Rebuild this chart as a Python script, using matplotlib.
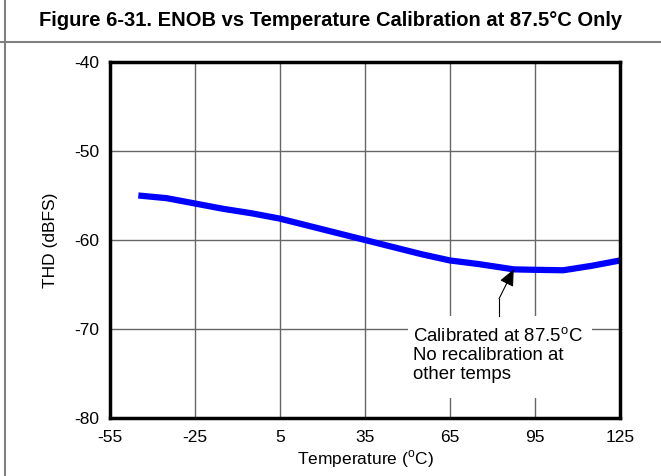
import matplotlib.pyplot as plt
from matplotlib.lines import Line2D
from matplotlib.patches import Rectangle

plt.rcParams['font.family'] = ['Liberation Sans', 'DejaVu Sans']
plt.rcParams['mathtext.fontset'] = 'custom'
plt.rcParams['mathtext.rm'] = 'Liberation Sans'
plt.rcParams['axes.unicode_minus'] = False

# THD vs temperature, calibrated once at 87.5 C
temp_c = [-45, -35, -25, -15, -5, 5, 15, 25, 35, 45, 55, 65, 75, 87.5, 95, 105, 115, 125]
thd_dbfs = [-55.0, -55.3, -55.9, -56.5, -57.0, -57.6, -58.4, -59.2, -60.0,
            -60.8, -61.6, -62.3, -62.7, -63.3, -63.35, -63.4, -62.9, -62.3]

x_ticks = [-55, -25, 5, 35, 65, 95, 125]
y_ticks = [-80, -70, -60, -50, -40]

title = 'Figure 6-31. ENOB vs Temperature Calibration at 87.5°C Only'
note = 'Calibrated at 87.5$^{\\mathrm{o}}$C\nNo recalibration at\nother temps'
note_pos = (52.0, -69.8)
cal_point = (87.5, -63.3)
note_anchor = (82.3, -66.6)
note_foot = (82.3, -68.5)

fig = plt.figure(figsize=(6.61, 4.76), dpi=100)
ax = fig.add_axes([110 / 661, 58 / 476, 510 / 661, 356 / 476])

ax.plot(temp_c, thd_dbfs, color='#0000ff', lw=4.5, solid_capstyle='butt', zorder=3)

ax.set_xlim(-55, 125)
ax.set_ylim(-80, -40)
ax.set_xticks(x_ticks)
ax.set_yticks(y_ticks)
ax.tick_params(length=0, labelsize=12.5)
ax.tick_params(axis='x', pad=9)
ax.tick_params(axis='y', pad=8)
ax.grid(True, color='#666666', lw=1)
for s in ax.spines.values():
    s.set_linewidth(2.5)
    s.set_zorder(6)

ax.set_xlabel('Temperature ($^{\\mathrm{o}}$C)', fontsize=12.5, labelpad=2)
ax.set_ylabel('THD (dBFS)', fontsize=12.5, labelpad=11)

# white panel behind the note, cutting the grid
ax.add_patch(Rectangle((50.2, -77.8), 64.9, 9.3, fc='white', ec='none', zorder=4))
ax.text(*note_pos, note, fontsize=13.4, va='top', ha='left', linespacing=1.1, zorder=5)
ax.plot([note_foot[0], note_anchor[0]], [note_foot[1], note_anchor[1]],
        color='black', lw=0.8, zorder=5)
ax.annotate('', xy=cal_point, xytext=note_anchor,
            arrowprops=dict(arrowstyle='-|>,head_length=1.0,head_width=0.45',
                            color='black', lw=0.8, shrinkA=0, shrinkB=0),
            zorder=5)

# title band and frame
fig.text(0.5, 1 - 20 / 476, title, ha='center', va='center',
         fontsize=14.5, fontweight='bold')
fig.add_artist(Line2D([0, 1], [1 - 42 / 476, 1 - 42 / 476],
                      color='#808080', lw=1.5, transform=fig.transFigure))
fig.add_artist(Line2D([4.5 / 661, 4.5 / 661], [0, 1],
                      color='#808080', lw=1.5, transform=fig.transFigure))

fig.savefig('out.png', dpi=100)
